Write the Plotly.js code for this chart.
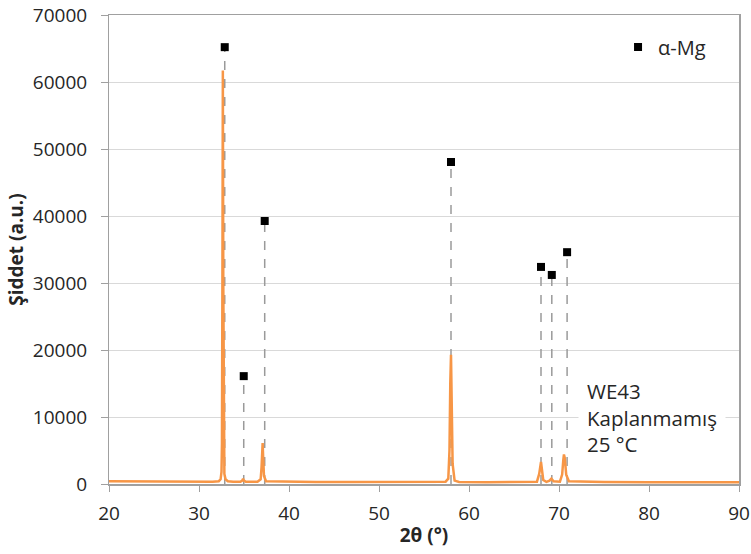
<!DOCTYPE html>
<html><head><meta charset="utf-8">
<script src="https://cdn.plot.ly/plotly-3.0.1.min.js"></script>
<style>body{margin:0;background:#fff}#c{width:751px;height:554px}</style>
</head><body><div id="c"></div>
<script>
// XRD pattern (2θ, intensity)
const xrdX = [20, 22, 25, 28, 30, 31.5, 32.2, 32.4, 32.5, 32.55, 32.6, 32.65, 32.7, 32.75, 32.82, 32.95, 33.2, 33.8, 34.6, 34.8, 34.9, 35.0, 35.2, 36.5, 36.85, 36.95, 37.02, 37.07, 37.13, 37.22, 37.45, 40, 43, 47, 50, 55, 57.4, 57.7, 57.83, 57.92, 58.0, 58.08, 58.18, 58.4, 58.9, 62, 66, 67.55, 67.8, 67.92, 68.0, 68.1, 68.25, 68.6, 68.95, 69.15, 69.4, 70.1, 70.35, 70.48, 70.55, 70.65, 70.8, 71.1, 73, 75, 80, 85, 90];
const xrdY = [420, 400, 370, 340, 320, 330, 420, 700, 1800, 6000, 30000, 61700, 30000, 6000, 1500, 700, 420, 330, 320, 500, 800, 500, 320, 330, 700, 2500, 5000, 6100, 4000, 1200, 400, 300, 280, 280, 270, 270, 350, 800, 5000, 15000, 19300, 12000, 3000, 500, 300, 270, 280, 350, 1500, 3100, 3300, 2200, 600, 320, 500, 800, 400, 350, 1400, 3600, 4400, 3800, 1400, 400, 290, 280, 270, 270, 260];
// α-Mg reflection markers
const mgX = [32.86, 34.97, 37.3, 58.0, 68.0, 69.2, 70.9];
const mgY = [65200, 16100, 39250, 48060, 32400, 31200, 34600];
const xTicks = [20, 30, 40, 50, 60, 70, 80, 90];
const yTicks = [0, 10000, 20000, 30000, 40000, 50000, 60000, 70000];
const legendLabel = 'α-Mg';
const sampleText = ['WE43', 'Kaplanmamış', '25 °C'];

const traces = [];
mgX.forEach((x, i) => {
  traces.push({x: [x, x], y: [0, mgY[i]], mode: 'lines', showlegend: false, hoverinfo: 'skip',
    line: {color: '#9a9a9a', width: 1.5, dash: 'dash'}});
});
traces.push({x: xrdX, y: xrdY, mode: 'lines', showlegend: false,
  line: {color: '#F79646', width: 2.5}});
traces.push({x: mgX, y: mgY, mode: 'markers', name: legendLabel, showlegend: true,
  marker: {symbol: 'square', size: 8, color: '#000'}});

const font = {family: '"Open Sans", sans-serif', size: 19, color: '#262626'};
const layout = {
  width: 751, height: 554,
  margin: {l: 109, r: 12, t: 15, b: 70},
  paper_bgcolor: '#fff', plot_bgcolor: '#fff',
  font: font,
  showlegend: true,
  legend: {x: 0.808, y: 0.932, xanchor: 'left', yanchor: 'middle', bgcolor: 'rgba(0,0,0,0)',
    font: {family: '"Open Sans", sans-serif', size: 20, color: '#262626'}, itemwidth: 30},
  xaxis: {range: [20, 90], tickvals: xTicks, ticktext: xTicks.map(String),
    showgrid: false, zeroline: false, showline: true, linecolor: '#a0a0a0', linewidth: 1.5, mirror: true,
    ticks: 'outside', ticklen: 6, tickcolor: '#a0a0a0', ticklabelstandoff: 6,
    title: {text: '<b>2θ (°)</b>', font: {size: 19, color: '#262626'}, standoff: 3}},
  yaxis: {range: [0, 70000], tickvals: yTicks, ticktext: yTicks.map(v => v + '\u2002'),
    showgrid: true, gridcolor: '#d9d9d9', gridwidth: 1, zeroline: false,
    showline: true, linecolor: '#a0a0a0', linewidth: 1.5, mirror: true,
    ticks: 'outside', ticklen: 7, tickcolor: '#a0a0a0',
    title: {text: '<b>Şiddet (a.u.)</b>', font: {size: 19, color: '#262626'}, standoff: 4}},
  annotations: [{
    xref: 'paper', yref: 'paper', x: (578 - 109) / 630, y: (484 - 368) / 469,
    xanchor: 'left', yanchor: 'top', align: 'left', showarrow: false,
    text: sampleText.join('<br>'), bgcolor: '#fff', borderpad: 8,
    font: {family: '"Open Sans", sans-serif', size: 20.5, color: '#262626'}
  }]
};
Plotly.newPlot('c', traces, layout, {displayModeBar: false, staticPlot: true});
</script></body></html>
